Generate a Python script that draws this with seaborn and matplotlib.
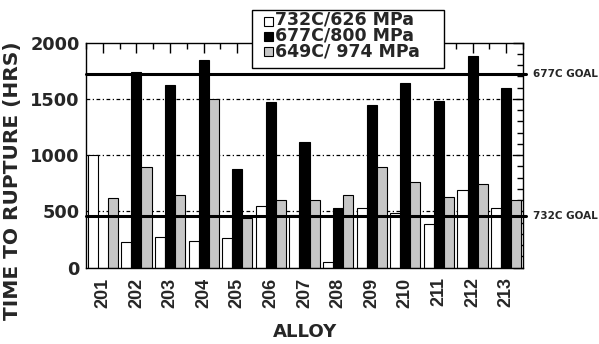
import matplotlib
matplotlib.use("Agg")
import matplotlib.pyplot as plt
import matplotlib.transforms as mtransforms
from matplotlib.patches import Rectangle
import numpy as np
import pandas as pd
import seaborn as sns

# Stress-rupture life of each alloy at three test conditions
alloys = ["201", "202", "203", "204", "205", "206", "207",
          "208", "209", "210", "211", "212", "213"]
conditions = ["732C/626 MPa", "677C/800 MPa", "649C/ 974 MPa"]
hrs_732 = [1005, 226, 270, 237, 261, 548, 470, 50, 528, 485, 386, 688, 531]
hrs_677 = [0, 1740, 1624, 1846, 875, 1473, 1117, 528, 1444, 1639, 1482, 1882, 1597]
hrs_649 = [617, 895, 644, 1500, 442, 599, 599, 646, 895, 762, 626, 741, 599]

# Design goals
goal_labels = ["677C GOAL", "732C GOAL"]
goal_values = [1720, 460]

yticks = [0, 500, 1000, 1500, 2000]

sns.set_style("white")
plt.rcParams["font.family"] = ["DejaVu Sans"]
plt.rcParams["font.weight"] = "bold"
WIDE = "DejaVu Sans"
NARROW = "Liberation Sans"

df = pd.DataFrame({
    "alloy": alloys * 3,
    "condition": [conditions[0]] * 13 + [conditions[1]] * 13 + [conditions[2]] * 13,
    "hours": hrs_732 + hrs_677 + hrs_649,
})

colors = ["white", "black", "#c6c6c6"]

W, H = 599, 344
fig = plt.figure(figsize=(W / 100, H / 100), dpi=100)
ax = fig.add_axes([86 / W, 1 - 267.7 / H, 437 / W, 225 / H])

# dash-dot reference lines behind the bars
for v in yticks[1:-1]:
    ax.axhline(v, color="black", lw=0.9, ls=(0, (3, 2, 1, 2)), zorder=0.5)

sns.barplot(data=df, x="alloy", y="hours", hue="condition",
            hue_order=conditions, order=alloys, palette=colors,
            width=0.9, saturation=1, edgecolor="black", linewidth=0.8,
            legend=False, ax=ax, zorder=2)

ax.set_xlim(-0.5, 12.5)
ax.set_ylim(0, 2000)
ax.set_yticks(yticks)
ax.set_yticks(np.arange(0, 2001, 100), minor=True)
ax.set_xticks(range(len(alloys)))
ax.set_xticks(np.arange(-0.5, 13, 1), minor=True)
ax.set_xticklabels(alloys, rotation=90, fontsize=13, fontweight="bold",
                   family=NARROW)
ax.set_yticklabels([str(v) for v in yticks], fontsize=12.8,
                   fontweight="bold", family=WIDE)
ax.tick_params(axis="both", which="major", direction="in", length=7,
               width=1, top=True, right=True, color="black")
ax.tick_params(axis="both", which="minor", direction="in", length=4,
               width=1, top=True, right=True, color="black")
ax.tick_params(axis="x", which="major", pad=7)
ax.tick_params(axis="y", which="major", pad=4.5)
ax.set_xlabel("")
ax.set_ylabel("")
for sp in ax.spines.values():
    sp.set_color("black")
    sp.set_linewidth(1.0)
    sp.set_zorder(4)

# goal lines drawn over the bars and labelled past the right edge
trans = mtransforms.blended_transform_factory(ax.transAxes, ax.transData)
for lab, val in zip(goal_labels, goal_values):
    ax.plot([0, 1.008], [val, val], color="black", lw=2.2,
            transform=trans, clip_on=False, zorder=3)
    ax.text(1.023, val, lab, transform=trans, ha="left", va="center",
            fontsize=7.5, fontweight="bold", family=WIDE)

fig.text(13 / W, 1 - 181 / H, "TIME TO RUPTURE (HRS)", rotation=90,
         ha="center", va="center", fontsize=14.5, fontweight="bold",
         family=WIDE)
fig.text(305 / W, 1 - 332 / H, "ALLOY", ha="center", va="center",
         fontsize=13.1, fontweight="bold", family=WIDE)

# key box above the plot
fig.patches.append(Rectangle((252 / W, 1 - 68 / H), 192 / W, 58 / H,
                             transform=fig.transFigure, facecolor="white",
                             edgecolor="black", linewidth=1.0, zorder=10))
baselines = [26.7, 41.7, 56.7]
for col, yb in zip(colors, baselines):
    fig.patches.append(Rectangle((264 / W, 1 - (yb - 0.5) / H), 8.5 / W, 9.5 / H,
                                 transform=fig.transFigure, facecolor=col,
                                 edgecolor="black", linewidth=0.8, zorder=11))
fig.text(275 / W, 1 - baselines[-1] / H, "\n".join(conditions),
         ha="left", va="baseline", fontsize=12.5, fontweight="bold",
         family=WIDE, linespacing=0.87, zorder=12)

fig.savefig("out.png", dpi=100)
